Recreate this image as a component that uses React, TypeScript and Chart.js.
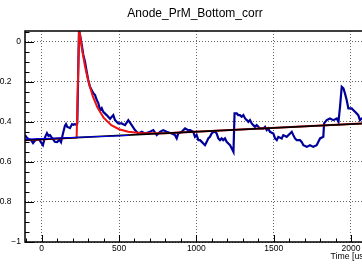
import React, { useEffect, useRef } from 'react';
import { Chart, registerables } from 'chart.js';

Chart.register(...registerables);

const TITLE = 'Anode_PrM_Bottom_corr';
const X_TITLE = 'Time [us]';
const X_MIN = -108;
const X_MAX = 2097;
const Y_MIN = -1;
const Y_MAX = 0.0534;
const FONT = "'Liberation Sans', Arial, Helvetica, sans-serif";

const xTickValues = [0, 500, 1000, 1500, 2000];
const yTickValues = [-1, -0.8, -0.6, -0.4, -0.2, 0];

// Measured waveform (time in us, amplitude)
const waveT = [
  -108, -97, -85, -70, -56, -45, -30, -15, -2, 8, 20, 34, 44, 54, 64, 73, 85, 99, 115, 125,
  138, 150, 157, 165, 170, 183, 196, 205, 215, 224, 230, 241, 248, 259, 269, 280, 291, 301, 312, 323,
  334, 345, 356, 366, 377, 388, 398, 420, 442, 463, 474, 495, 517, 539, 560, 582, 603, 625, 647, 668,
  700, 722, 744, 765, 786, 808, 841, 862, 873, 883, 905, 927, 948, 959, 980, 991, 1002, 1013, 1024, 1035,
  1045, 1056, 1067, 1077, 1088, 1099, 1110, 1121, 1131, 1142, 1153, 1164, 1174, 1185, 1196, 1207, 1218, 1229, 1240, 1247,
  1261, 1271, 1282, 1293, 1304, 1315, 1326, 1336, 1347, 1358, 1368, 1379, 1390, 1401, 1412, 1433, 1444, 1455, 1465, 1476,
  1498, 1509, 1520, 1530, 1552, 1562, 1584, 1606, 1617, 1627, 1638, 1649, 1670, 1681, 1692, 1714, 1735, 1756, 1778, 1789,
  1800, 1821, 1826, 1843, 1864, 1886, 1908, 1919, 1929, 1940, 1951, 1961, 1972, 1983, 2004, 2026, 2047, 2058, 2069, 2097,
];
const waveV = [
  -0.467, -0.478, -0.4865, -0.49, -0.5065, -0.495, -0.4865, -0.49, -0.505, -0.5165, -0.48, -0.4565, -0.47, -0.4665, -0.478, -0.4865, -0.5, -0.5015, -0.49, -0.5015,
  -0.4565, -0.42, -0.4115, -0.425, -0.4265, -0.4315, -0.4115, -0.415, -0.4115, -0.415, -0.41, 0.0535, 0.0335, -0.0165, -0.0665, -0.1, -0.15, -0.1915, -0.225, -0.2415,
  -0.258, -0.2665, -0.2915, -0.3065, -0.3415, -0.3315, -0.35, -0.3665, -0.385, -0.3665, -0.3915, -0.408, -0.408, -0.4165, -0.3915, -0.4165, -0.4415, -0.458, -0.45, -0.458,
  -0.45, -0.4415, -0.4665, -0.45, -0.4415, -0.45, -0.458, -0.4665, -0.483, -0.458, -0.45, -0.433, -0.4415, -0.4415, -0.45, -0.475, -0.4665, -0.4915, -0.4915, -0.5,
  -0.508, -0.5165, -0.5, -0.483, -0.475, -0.458, -0.45, -0.45, -0.458, -0.483, -0.4915, -0.483, -0.4915, -0.483, -0.5, -0.508, -0.5165, -0.533, -0.55, -0.358,
  -0.358, -0.3665, -0.3665, -0.375, -0.3665, -0.383, -0.3915, -0.4, -0.3915, -0.408, -0.4165, -0.425, -0.4165, -0.425, -0.433, -0.433, -0.425, -0.4415, -0.433, -0.45,
  -0.458, -0.483, -0.4915, -0.475, -0.483, -0.4665, -0.475, -0.458, -0.45, -0.4665, -0.483, -0.4915, -0.4915, -0.5, -0.5165, -0.525, -0.5165, -0.525, -0.5165, -0.5,
  -0.483, -0.475, -0.408, -0.3915, -0.383, -0.3915, -0.383, -0.4, -0.325, -0.225, -0.233, -0.258, -0.2915, -0.333, -0.333, -0.35, -0.3665, -0.3915, -0.383, -0.375,
];

// Pulse fit (red)
const fitT = [-108, 226, 242, 260, 280, 300, 330, 360, 400, 450, 500, 560, 650, 800, 2097];
const fitV = [-0.4915, -0.479, 0.062, -0.035, -0.123, -0.192, -0.272, -0.328, -0.379, -0.417, -0.437, -0.45, -0.457, -0.457, -0.4075];

// Linear baseline (black)
const baseT = [-108, 2097];
const baseV = [-0.4915, -0.4073];

// Pre-trigger baseline (thin blue)
const preT = [-108, 560];
const preV = [-0.4865, -0.4685];

const toXY = (t: number[], v: number[]) => t.map((x, i) => ({ x, y: v[i] }));

const yLabel = (n: number) => {
  if (Math.abs(n) < 1e-9) return '0';
  if (Math.abs(n + 1) < 1e-9) return '\u22121';
  return '\u2212' + Math.abs(n).toFixed(1) + '    ';
};

const frameTicks = {
  id: 'frameTicks',
  afterDraw(chart: any) {
    const { ctx, chartArea: a, scales } = chart;
    const xs = scales.x;
    const ys = scales.y;
    ctx.save();
    ctx.strokeStyle = '#000';
    ctx.lineWidth = 1;
    ctx.beginPath();
    for (let i = -1; i <= 20; i++) {
      const v = i * 100;
      if (v < X_MIN || v > X_MAX) continue;
      const px = Math.round(xs.getPixelForValue(v)) + 0.5;
      const len = Math.abs(i % 5) === 0 ? 7 : 3.5;
      ctx.moveTo(px, a.bottom);
      ctx.lineTo(px, a.bottom - len);
    }
    for (let i = -20; i <= 1; i++) {
      const v = i * 0.05;
      if (v > Y_MAX || v < Y_MIN) continue;
      const py = Math.round(ys.getPixelForValue(v)) + 0.5;
      const len = Math.abs(i % 4) === 0 ? 9 : 4.5;
      ctx.moveTo(a.left, py);
      ctx.lineTo(a.left + len, py);
    }
    ctx.stroke();
    ctx.lineWidth = 1.5;
    ctx.strokeRect(a.left, a.top, a.right - a.left, a.bottom - a.top);
    ctx.restore();
  },
};

export default function App() {
  const ref = useRef<HTMLCanvasElement | null>(null);

  useEffect(() => {
    if (!ref.current) return;
    const gridColor = 'rgba(0,0,0,0.6)';
    const tickFont = { family: FONT, size: 8.5 };
    const chart = new Chart(ref.current, {
      type: 'line',
      data: {
        datasets: [
          { label: 'pre', data: toXY(preT, preV), borderColor: '#0000ff', borderWidth: 1, pointRadius: 0, clip: 0 },
          { label: 'base', data: toXY(baseT, baseV), borderColor: '#000000', borderWidth: 1.7, pointRadius: 0, clip: 0 },
          { label: 'fit', data: toXY(fitT, fitV), borderColor: '#ee1111', borderWidth: 2, pointRadius: 0, clip: 0 },
          { label: 'wave', data: toXY(waveT, waveV), borderColor: '#000099', borderWidth: 2.2, pointRadius: 0, clip: 0 },
        ],
      },
      options: {
        animation: false,
        responsive: false,
        events: [],
        layout: { padding: 0 },
        plugins: {
          legend: { display: false },
          tooltip: { enabled: false },
          title: {
            display: true,
            text: TITLE,
            color: '#000',
            font: { family: FONT, size: 12, weight: 'normal' },
            padding: { top: 6, bottom: 10.6 },
          },
        },
        scales: {
          x: {
            type: 'linear',
            position: 'bottom',
            min: X_MIN,
            max: X_MAX,
            afterBuildTicks: (s: any) => { s.ticks = xTickValues.map((value) => ({ value })); },
            afterFit: (s: any) => { s.height = 26; },
            grid: { color: gridColor, lineWidth: 1, drawTicks: false },
            border: { display: false, dash: [1, 2] },
            ticks: {
              autoSkip: false,
              maxRotation: 0,
              padding: 2,
              color: '#000',
              font: tickFont,
              callback: (v: any) => String(v),
            },
            title: {
              display: true,
              text: X_TITLE,
              align: 'end',
              color: '#000',
              font: { family: FONT, size: 8.7 },
              padding: { top: 0, bottom: 6 },
            },
          },
          y: {
            type: 'linear',
            position: 'left',
            min: Y_MIN,
            max: Y_MAX,
            afterBuildTicks: (s: any) => { s.ticks = yTickValues.map((value) => ({ value })); },
            afterFit: (s: any) => { s.width = 65; },
            grid: { color: gridColor, lineWidth: 1, drawTicks: false },
            border: { display: false, dash: [1, 2] },
            ticks: {
              autoSkip: false,
              padding: 4,
              color: '#000',
              font: tickFont,
              callback: (v: any) => yLabel(Number(v)),
            },
          },
          y2: {
            type: 'linear',
            position: 'right',
            min: 0,
            max: 1,
            afterFit: (s: any) => { s.width = 64; },
            grid: { display: false, drawTicks: false },
            border: { display: false },
            ticks: { display: false },
          },
        },
      } as any,
      plugins: [frameTicks],
    });
    return () => chart.destroy();
  }, []);

  return (
    <div style={{ position: 'fixed', left: 0, top: 0, width: 362, height: 268, overflow: 'hidden', background: '#fff' }}>
      <canvas ref={ref} width={470} height={268} style={{ position: 'absolute', left: -40, top: 0, width: 470, height: 268 }} />
    </div>
  );
}
